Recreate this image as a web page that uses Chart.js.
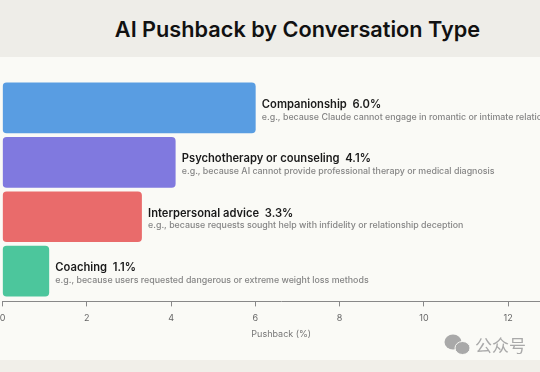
<!DOCTYPE html>
<html>
<head>
<meta charset="utf-8">
<script src="https://cdn.jsdelivr.net/npm/chart.js@4/dist/chart.umd.min.js"></script>
<style>
    html, body { margin: 0; padding: 0; width: 540px; height: 372px; overflow: hidden; background: #fafaf6; }
    #top-band { position: absolute; left: 0; top: 0; width: 540px; height: 57px; background: #eeede8; }
    #bottom-band { position: absolute; left: 0; top: 360px; width: 540px; height: 12px; background: #f1efe9; }
    #title { position: absolute; left: 0; top: 16px; width: 595px; text-align: center; font: 600 21.7px Inter, sans-serif; color: #111; white-space: nowrap; }
    #chart-canvas { position: absolute; left: 0; top: 0; filter: blur(0.3px); }
    #mark { position: absolute; left: 444px; top: 333px; }
    #mark-text { position: absolute; left: 475px; top: 333px; font: 17px "Noto Sans CJK SC", sans-serif; line-height: 24px; color: #a9a9a9; white-space: nowrap; }
</style>
</head>
<body>
<div id="top-band"></div>
<div id="bottom-band"></div>
<div id="title">AI Pushback by Conversation Type</div>
<canvas id="chart-canvas" width="560" height="372"></canvas>
<svg id="mark" width="28" height="26">
    <ellipse cx="9" cy="9" rx="8.5" ry="7.5" fill="#a9a9a9"></ellipse>
    <ellipse cx="18.5" cy="15" rx="7.5" ry="6.5" fill="#a9a9a9" stroke="#fafaf6" stroke-width="1"></ellipse>
</svg>
<div id="mark-text">公众号</div>
<script>
    var categories = ['Companionship', 'Psychotherapy or counseling', 'Interpersonal advice', 'Coaching'];
    var pushback = [6.0, 4.1, 3.3, 1.1];
    var examples = [
        'e.g., because Claude cannot engage in romantic or intimate relationships',
        'e.g., because AI cannot provide professional therapy or medical diagnosis',
        'e.g., because requests sought help with infidelity or relationship deception',
        'e.g., because users requested dangerous or extreme weight loss methods'
    ];
    var barColors = ['#599de2', '#8079df', '#e96b6b', '#4cc69c'];
    var axisTitle = 'Pushback (%)';

    // name + percentage and the example line, next to each bar
    var barLabels = {
        id: 'barLabels',
        afterDatasetsDraw: function (chart) {
            var ctx = chart.ctx;
            ctx.save();
            ctx.textBaseline = 'middle';
            chart.getDatasetMeta(0).data.forEach(function (bar, i) {
                ctx.textAlign = 'left';
                ctx.fillStyle = '#1a1a1a';
                ctx.font = '600 11.2px Inter, sans-serif';
                ctx.fillText(categories[i] + '  ' + pushback[i].toFixed(1) + '%', bar.x + 6.5, bar.y - 3.5);
                ctx.fillStyle = '#858585';
                ctx.font = '500 8.85px Inter, sans-serif';
                ctx.fillText(examples[i], bar.x + 6.5, bar.y + 9);
            });
            ctx.restore();
        }
    };

    var ctx = document.getElementById('chart-canvas').getContext('2d');
    var chart = new Chart(ctx, {
        type: 'bar',
        data: {
            datasets: [{
                data: categories.map(function (c, i) { return { x: pushback[i], y: i }; }),
                backgroundColor: barColors,
                borderRadius: 4,
                borderSkipped: false,
                barThickness: 50
            }]
        },
        options: {
            indexAxis: 'y',
            responsive: false,
            animation: false,
            layout: { padding: { left: 2.5, top: 80.7, bottom: 32 } },
            plugins: { legend: { display: false }, tooltip: { enabled: false } },
            scales: {
                y: { type: 'linear', reverse: true, offset: false, min: -0.5, max: 3.555, display: false },
                x: {
                    min: 0,
                    max: 13.23,
                    afterFit: function (scale) { scale.paddingLeft = 0; scale.paddingRight = 0; },
                    grid: { display: true, drawTicks: true, tickLength: 5, tickColor: '#888888', drawOnChartArea: false },
                    border: { color: '#888888', width: 1 },
                    ticks: { stepSize: 2, includeBounds: false, maxRotation: 0, padding: 6, color: '#666666', font: { family: 'Inter, sans-serif', size: 9 } },
                    title: { display: true, text: axisTitle, color: '#777777', padding: { top: 0, bottom: 0 }, font: { family: 'Inter, sans-serif', size: 9 } }
                }
            }
        },
        plugins: [barLabels]
    });
</script>
</body>
</html>
